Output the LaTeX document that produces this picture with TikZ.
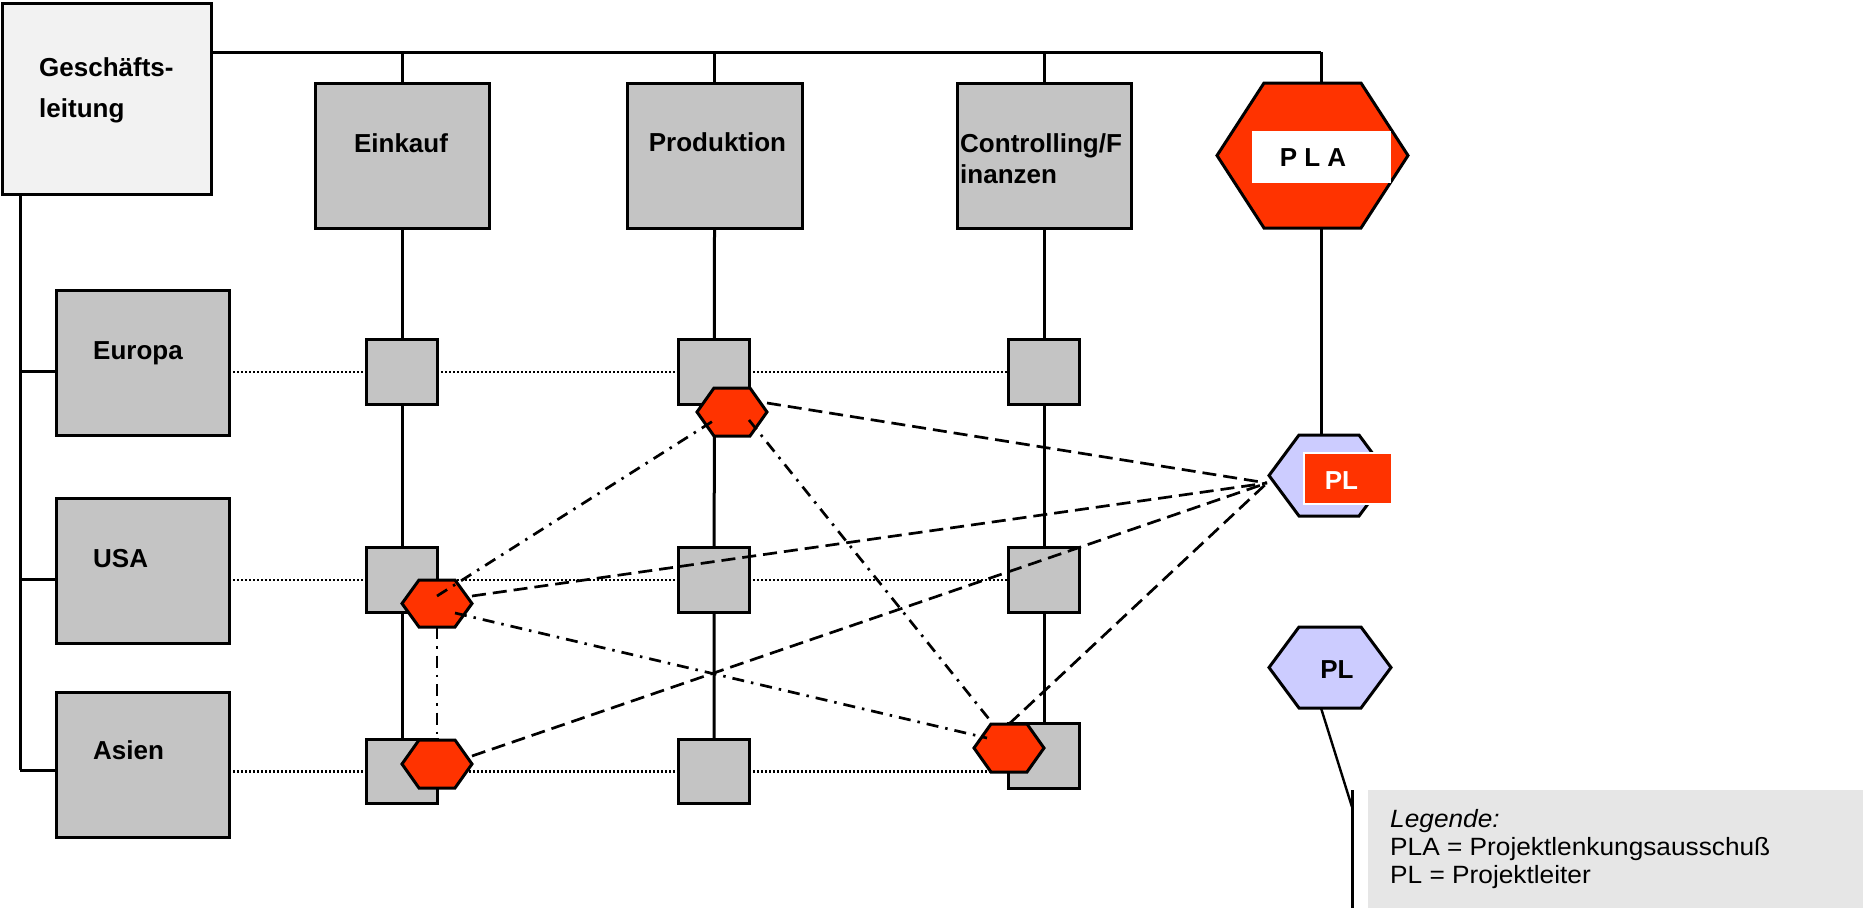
\documentclass[tikz,border=0pt]{standalone}
\usepackage{fontspec}
\setmainfont{Liberation Sans}
\usepackage{graphicx}

\definecolor{boxgray}{HTML}{C4C4C4}
\definecolor{headgray}{HTML}{F2F2F2}
\definecolor{legendgray}{HTML}{E6E6E6}
\definecolor{signalred}{HTML}{FF3300}
\definecolor{lavender}{HTML}{CCCCFF}

\tikzset{
  conn/.style={line width=3pt},
  frame/.style={draw, line width=3pt, inner sep=0pt, outer sep=0pt},
  unitbox/.style={frame, fill=boxgray},
  hexline/.style={line width=3pt, line join=miter},
  dotline/.style={line width=2.2pt, dash pattern=on 2pt off 2pt},
  dashline/.style={line width=2.7pt, dash pattern=on 14pt off 7pt},
  dashdot/.style={line width=2.7pt, dash pattern=on 12pt off 7pt on 2.5pt off 7pt},
  lbl/.style={inner sep=0pt, font=\fontsize{26}{31}\selectfont\bfseries},
  legtext/.style={inner sep=0pt, anchor=base west, font=\fontsize{25}{28}\selectfont},
}

% hexagon: name, x, y, width, height, corner inset, fill colour
\newcommand{\hexshape}[7]{%
  \node[inner sep=0pt, outer sep=0pt, minimum width=#4pt, minimum height=#5pt] (#1) at (#2,#3) {};
  \draw[hexline, fill=#7] (#1.west) -- ([xshift=#6pt]#1.north west) -- ([xshift=-#6pt]#1.north east)
    -- (#1.east) -- ([xshift=-#6pt]#1.south east) -- ([xshift=#6pt]#1.south west) -- cycle;
}

\begin{document}
\begin{tikzpicture}[x=1pt, y=-1pt]
\useasboundingbox (0,0) rectangle (1863,908);

% ---- management box and functional units
\node[frame, fill=headgray, minimum width=208.5pt, minimum height=190.5pt] (gl) at (106.75,98.75) {};
\node[unitbox, minimum width=174pt, minimum height=145pt] (einkauf) at (402,155.5) {};
\node[unitbox, minimum width=175pt, minimum height=145pt] (produktion) at (714.5,155.5) {};
\node[unitbox, minimum width=174pt, minimum height=145pt] (controlling) at (1044,155.5) {};

% ---- regions
\node[unitbox, minimum width=173pt, minimum height=145pt] (europa) at (142.5,363) {};
\node[unitbox, minimum width=173pt, minimum height=145pt] (usa) at (142.5,571) {};
\node[unitbox, minimum width=173pt, minimum height=145pt] (asien) at (142.5,764.5) {};

% ---- bus and tree coordinates
\coordinate (busL) at (211,52);
\coordinate (busR) at (1321,52);
\coordinate (treeTop) at (20,194);
\coordinate (brEu) at (20,371);
\coordinate (brUs) at (20,579);
\coordinate (brAs) at (20,770);

% ---- matrix cells (placed first, drawn after the lines behind them)
\node[inner sep=0pt, minimum width=70pt, minimum height=64pt] (s11) at (402,372) {};
\node[inner sep=0pt, minimum width=70pt, minimum height=64pt] (s12) at (714,372) {};
\node[inner sep=0pt, minimum width=70pt, minimum height=64pt] (s13) at (1044,372) {};
\node[inner sep=0pt, minimum width=70pt, minimum height=64pt] (s21) at (402,580) {};
\node[inner sep=0pt, minimum width=70pt, minimum height=64pt] (s22) at (714,580) {};
\node[inner sep=0pt, minimum width=70pt, minimum height=64pt] (s23) at (1044,580) {};
\node[inner sep=0pt, minimum width=70pt, minimum height=64pt] (s31) at (402,771.5) {};
\node[inner sep=0pt, minimum width=70pt, minimum height=64pt] (s32) at (714,771.5) {};
\node[inner sep=0pt, minimum width=70pt, minimum height=64pt] (s33) at (1044,756) {};

% ---- solid organisation lines
\draw[conn] (busL) -- (busR);
\draw[conn] (einkauf.north) -- (einkauf.north |- busL);
\draw[conn] (produktion.north) -- (produktion.north |- busL);
\draw[conn] (controlling.north) -- (controlling.north |- busL);
\draw[conn] (treeTop) -- (brAs);
\draw[conn] (brEu) -- (brEu -| europa.west);
\draw[conn] (brUs) -- (brUs -| usa.west);
\draw[conn] (brAs) -- (brAs -| asien.west);
\draw[conn] (einkauf.south) -- (s31.north);
\draw[conn] (produktion.south) -- (s32.north);
\draw[conn] (controlling.south) -- (s33.north);

% ---- dotted region lines
\draw[dotline] (europa.east |- s11.center) -- (s13.west);
\draw[dotline] (usa.east |- s21.center) -- (s23.west);
\draw[dotline] (asien.east |- s31.center) -- (s33.west |- s31.center);

% ---- matrix cells
\foreach \c in {s11,s12,s13,s21,s22,s23,s31,s32,s33}
  \draw[line width=3pt, fill=boxgray] (\c.south west) rectangle (\c.north east);

% ---- steering committee and project leaders
\hexshape{pla}{1312.5}{155.5}{191}{145}{47}{signalred}
\hexshape{pl1}{1329}{475.5}{120}{81}{30}{lavender}
\hexshape{pl2}{1330}{667.5}{122}{81}{30}{lavender}
\draw[conn] (pla.south -| busR) -- (pl1.north -| busR);
\draw[conn] (busR) -- (pla.north -| busR);

\node[fill=white, inner sep=0pt, minimum width=139pt, minimum height=52pt] (plabar) at (1321.5,157) {};
\node[lbl, anchor=base] (platext) at (1313,166) {P L A};

\node[fill=signalred, draw=white, line width=1.5pt, inner sep=0pt, minimum width=88pt, minimum height=51pt] (plbadge) at (1348,478.5) {};
\node[lbl, anchor=base, text=white] (pltext) at (1341.5,489) {PL};
\node[lbl, anchor=base] (pl2text) at (1337,678) {PL};

% ---- project teams
\hexshape{h1}{732}{412}{70}{48}{17}{signalred}
\hexshape{h2}{437}{603.5}{70}{47}{17}{signalred}
\hexshape{h3}{437}{764}{70}{48}{17}{signalred}
\hexshape{h4}{1009}{748}{70}{48}{17}{signalred}

\coordinate (plin) at (1267,483);
\draw[dashline] ([yshift=9pt]h1.east) -- (plin);
\draw[dashline] ([yshift=7.5pt]h2.east) -- (plin);
\draw[dashline] ([yshift=8pt]h3.east) -- (plin);
\draw[dashline] (h4.north) -- (plin);

\draw[dashdot] ([yshift=7.5pt]h2.center) -- ([xshift=-19pt, yshift=-9pt]h1.center);
\draw[dashdot] ([xshift=17pt, yshift=-8pt]h1.center) -- ([xshift=-16pt]h4.north);
\draw[dashdot] ([xshift=18pt, yshift=-9.5pt]h2.center) -- ([xshift=-22pt, yshift=10pt]h4.center);
\draw[dashdot] (h2.south) -- (h3.north);

% ---- legend
\coordinate (kink) at (1352,807);
\coordinate (legTop) at (1352,790);
\coordinate (legBot) at (1352,908);
\node[fill=legendgray, inner sep=0pt, minimum width=495pt, minimum height=118pt] (legend) at (1615.5,849) {};
\draw[line width=2.4pt] (pl2.south -| busR) -- (kink);
\draw[line width=3pt] (legTop) -- (legBot);
\node[legtext] (leg1) at (1390,827) {\scalebox{1.05}[1]{\itshape Legende:}};
\node[legtext] (leg2) at (1390,855) {\scalebox{1.05}[1]{PLA = Projektlenkungsausschuß}};
\node[legtext] (leg3) at (1390,883) {\scalebox{1.05}[1]{PL = Projektleiter}};

% ---- labels
\node[lbl, anchor=base west] (gl1) at (39,76) {Geschäfts-};
\node[lbl, anchor=base west] (gl2) at (39,117) {leitung};
\node[lbl, anchor=base] (einkauftext) at (401,152) {Einkauf};
\node[lbl, anchor=base] (produktiontext) at (717.5,151) {Produktion};
\node[lbl, anchor=base west] (ctrl1) at (960,152) {Controlling/F};
\node[lbl, anchor=base west] (ctrl2) at (960,183) {inanzen};
\node[lbl, anchor=base west] (europatext) at (93,359) {Europa};
\node[lbl, anchor=base west] (usatext) at (93,567) {USA};
\node[lbl, anchor=base west] (asientext) at (93,759) {Asien};
\end{tikzpicture}
\end{document}
